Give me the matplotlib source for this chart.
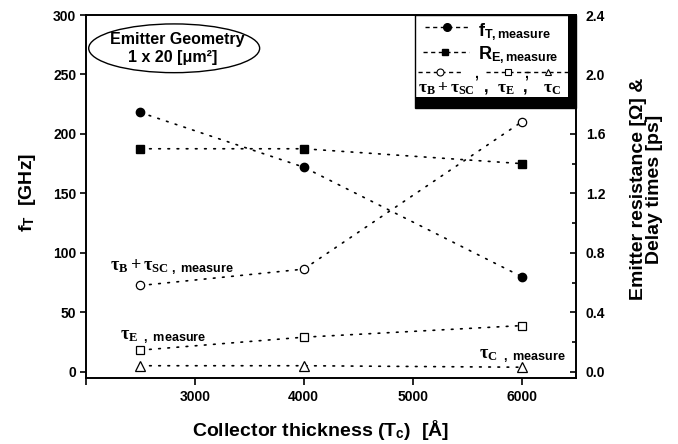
# fT, emitter resistance and delay times vs collector thickness
import matplotlib
matplotlib.use('Agg')
import matplotlib.pyplot as plt
from matplotlib.patches import Ellipse, Rectangle
from matplotlib.ticker import MultipleLocator

# data
tc = [2500, 4000, 6000]                 # collector thickness [A]
ft = [218, 172, 80]                     # fT [GHz], left axis
re = [1.50, 1.50, 1.40]                 # emitter resistance [Ohm], right axis
tau_bsc = [0.58, 0.69, 1.68]            # tauB + tauSC [ps]
tau_e = [0.145, 0.232, 0.31]            # tauE [ps]
tau_c = [0.04, 0.04, 0.03]              # tauC [ps]

xticks = [2000, 3000, 4000, 5000, 6000]
xticklabels = ['', '3000', '4000', '5000', '6000']
yticks_left = [0, 50, 100, 150, 200, 250, 300]
yticks_right = [0.0, 0.4, 0.8, 1.2, 1.6, 2.0, 2.4]

plt.rcParams['font.family'] = 'Liberation Sans'
plt.rcParams['font.weight'] = 'bold'
plt.rcParams['mathtext.fontset'] = 'custom'
plt.rcParams['mathtext.rm'] = 'Liberation Serif:bold'
plt.rcParams['mathtext.it'] = 'Liberation Serif:bold'
plt.rcParams['mathtext.bf'] = 'Liberation Serif:bold'
plt.rcParams['mathtext.sf'] = 'Liberation Sans:bold'

fig = plt.figure(figsize=(6.78, 4.44), dpi=100)
ax = fig.add_axes([0.1268, 0.1495, 0.7227, 0.8167])
ax2 = ax.twinx()

dot = (0, (1, 4.5))
ms = 6
ax.plot(tc, ft, color='k', lw=1.2, linestyle=dot, dash_capstyle='round',
        marker='o', markersize=ms, markerfacecolor='k', markeredgecolor='k')
ax2.plot(tc, re, color='k', lw=1.2, linestyle=dot, dash_capstyle='round',
         marker='s', markersize=5.5, markerfacecolor='k', markeredgecolor='k')
ax2.plot(tc, tau_bsc, color='k', lw=1.2, linestyle=dot, dash_capstyle='round',
         marker='o', markersize=ms, markerfacecolor='w', markeredgecolor='k', markeredgewidth=0.9)
ax2.plot(tc, tau_e, color='k', lw=1.2, linestyle=dot, dash_capstyle='round',
         marker='s', markersize=5.5, markerfacecolor='w', markeredgecolor='k', markeredgewidth=0.9)
ax2.plot(tc, tau_c, color='k', lw=1.2, linestyle=dot, dash_capstyle='round',
         marker='^', markersize=6.5, markerfacecolor='w', markeredgecolor='k', markeredgewidth=0.9)

ax.set_xlim(2000, 6500)
ax.set_ylim(-5, 300)
ax2.set_ylim(-0.04, 2.4)

ax.set_xticks(xticks)
ax.set_xticklabels(xticklabels)
ax.set_yticks(yticks_left)
ax2.set_yticks(yticks_right)
ax2.set_yticklabels(['%.1f' % v for v in yticks_right])
ax2.yaxis.set_minor_locator(MultipleLocator(0.2))

for a in (ax, ax2):
    for s in a.spines.values():
        s.set_linewidth(1.2)
ax.tick_params(axis='x', direction='out', length=5, width=1.2, labelsize=10, pad=4)
ax.tick_params(axis='y', direction='out', length=4, width=1.2, labelsize=10, pad=3)
ax2.tick_params(axis='y', which='major', direction='in', length=4, width=1.2, labelsize=10, pad=7)
ax2.tick_params(axis='y', which='minor', direction='in', length=3, width=1.2)

ax.set_xlabel('Collector thickness (T$_\\mathsf{c}$)  [Å]', fontsize=14, fontweight='bold')
ax.xaxis.set_label_coords(0.478, -0.112)
ax.set_ylabel('f$_\\mathsf{T}$  [GHz]', fontsize=14, fontweight='bold')
ax.yaxis.set_label_coords(-0.097, 0.51)
ax2.set_ylabel('Emitter resistance [Ω] &\nDelay times [ps]', fontsize=14,
               fontweight='bold', linespacing=0.95)
ax2.yaxis.set_label_coords(1.11, 0.52)

# emitter geometry ellipse
ax.add_patch(Ellipse((2810, 272), 1570, 41, facecolor='none', edgecolor='k', lw=1))
ax.text(2840, 279, 'Emitter Geometry', fontsize=11.5, fontweight='bold', ha='center', va='center')
ax.text(2795, 264, '1 x 20 [μm²]', fontsize=11.5, fontweight='bold', ha='center', va='center')

# curve annotations
ax.text(2222, 88, r'$\tau_{B}+\tau_{SC\mathsf{\ ,\ measure}}$', fontsize=13, va='center')
ax.text(2314, 29, r'$\tau_{E\mathsf{\ \ ,\ measure}}$', fontsize=13, va='center')
ax.text(5610, 13, r'$\tau_{C\mathsf{\ \ ,\ measure}}$', fontsize=13, va='center')

# legend box drawn by hand
T = ax.transAxes
ax.add_patch(Rectangle((0.671, 0.743), 0.329, 0.257, transform=T, facecolor='w',
                       edgecolor='k', lw=1, zorder=5, clip_on=False))
ax.add_patch(Rectangle((0.984, 0.743), 0.016, 0.257, transform=T, facecolor='k',
                       edgecolor='k', lw=0, zorder=6, clip_on=False))
ax.add_patch(Rectangle((0.671, 0.743), 0.329, 0.03, transform=T, facecolor='k',
                       edgecolor='k', lw=0, zorder=6, clip_on=False))

dash = (0, (3, 2.5))
ax.plot([0.692, 0.782], [0.966, 0.966], transform=T, color='k', lw=1, linestyle=dash, zorder=7, clip_on=False)
ax.plot([0.737], [0.966], transform=T, marker='o', color='k', markersize=5.5, zorder=8, clip_on=False)
ax.text(0.80, 0.942, 'f$_\\mathsf{T,measure}$', transform=T, fontsize=13, va='baseline', zorder=8)

ax.plot([0.688, 0.782], [0.899, 0.899], transform=T, color='k', lw=1, linestyle=dash, zorder=7, clip_on=False)
ax.plot([0.733], [0.899], transform=T, marker='s', color='k', markersize=5, zorder=8, clip_on=False)
ax.text(0.80, 0.877, 'R$_\\mathsf{E,measure}$', transform=T, fontsize=13, va='baseline', zorder=8)

for xc, mk in [(0.722, 'o'), (0.861, 's'), (0.943, '^')]:
    ax.plot([xc - 0.045, xc + 0.045], [0.844, 0.844], transform=T, color='k', lw=1,
            linestyle=dash, zorder=7, clip_on=False)
    ax.plot([xc], [0.844], transform=T, marker=mk, color='k', markerfacecolor='w',
            markersize=5, markeredgewidth=0.8, zorder=8, clip_on=False)
ax.text(0.792, 0.838, ',', transform=T, fontsize=10, va='center', zorder=8)
ax.text(0.893, 0.838, ',', transform=T, fontsize=10, va='center', zorder=8)

ax.text(0.678, 0.787, r'$\tau_{B}+\tau_{SC}$', transform=T, fontsize=12.5, va='baseline', zorder=8)
ax.text(0.812, 0.787, ',', transform=T, fontsize=12, va='baseline', zorder=8)
ax.text(0.839, 0.787, r'$\tau_{E}$', transform=T, fontsize=12.5, va='baseline', zorder=8)
ax.text(0.892, 0.787, ',', transform=T, fontsize=12, va='baseline', zorder=8)
ax.text(0.933, 0.787, r'$\tau_{C}$', transform=T, fontsize=12.5, va='baseline', zorder=8)

fig.savefig('out.png', dpi=100)
